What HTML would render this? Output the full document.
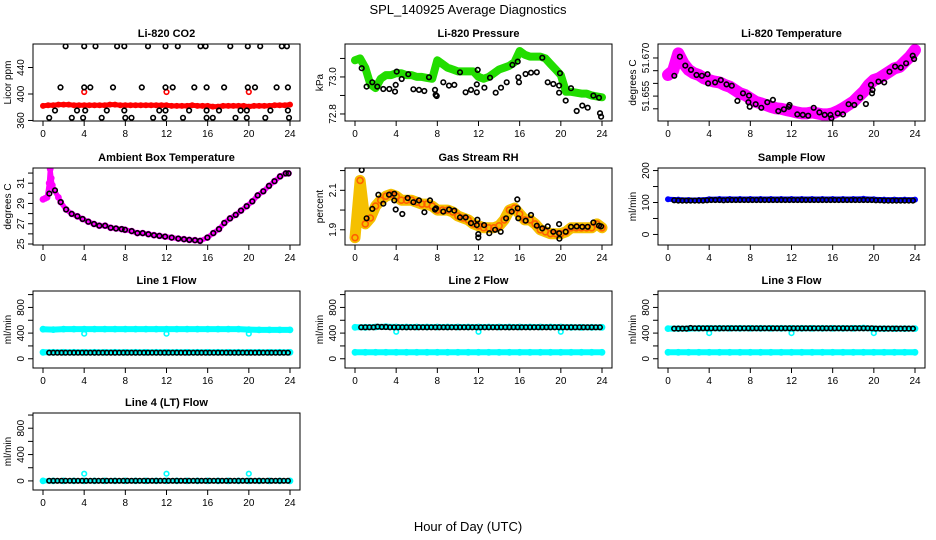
<!DOCTYPE html>
<html><head><meta charset="utf-8">
<style>
html,body{margin:0;padding:0;background:#fff;}
svg{display:block;font-family:"Liberation Sans",sans-serif;}
</style></head>
<body>
<svg id="chart" width="936" height="540" viewBox="0 0 936 540" xmlns="http://www.w3.org/2000/svg">
<rect x="0" y="0" width="936" height="540" fill="#fff"/>
<text x="468" y="14" text-anchor="middle" font-size="13">SPL_140925  Average Diagnostics</text>
<text x="468" y="531" text-anchor="middle" font-size="13">Hour of Day (UTC)</text>
</svg>
<script>
// ---- shared x data ----
const xTickLabels = [0,4,8,12,16,20,24];
const bandX = [0,1,2,3,4,5,6,7,8,9,10,11,12,13,14,15,16,17,18,19,20,21,22,23,24];
const flowX = [0.6,1.0,1.4,1.8,2.2,2.6,3.0,3.4,3.8,4.2,4.6,5.0,5.4,5.8,6.2,6.6,7.0,7.4,7.8,8.2,8.6,9.0,9.4,9.8,10.2,10.6,11.0,11.4,11.8,12.2,12.6,13.0,13.4,13.8,14.2,14.6,15.0,15.4,15.8,16.2,16.6,17.0,17.4,17.8,18.2,18.6,19.0,19.4,19.8,20.2,20.6,21.0,21.4,21.8,22.2,22.6,23.0,23.4,23.8];
const halfX = [0,0.5,1,1.5,2,2.5,3,3.5,4,4.5,5,5.5,6,6.5,7,7.5,8,8.5,9,9.5,10,10.5,11,11.5,12,12.5,13,13.5,14,14.5,15,15.5,16,16.5,17,17.5,18,18.5,19,19.5,20,20.5,21,21.5,22,22.5,23,23.5,24];
const outlierX = [4,12,20];

// ---- CO2 ----
const co2Red = [382,383,383,384,384,384,383,383,383,383,383,383,383,384,384,383,383,383,383,383,383,383,383,383,383,382,382,382,382,383,382,382,382,381,381,382,382,382,382,382,381,382,382,382,382,383,383,383,384];
const co2RedOut = [403,403,403];
const co2BlackX = [2.2,4.0,5.1,7.2,7.9,10.2,11.9,13.1,15.3,15.8,18.2,19.9,21.1,23.2,23.7, 1.7,4.0,4.6,6.8,9.6,11.9,12.6,14.7,15.9,17.6,19.9,20.6,22.7,23.8, 1.17,3.3,4.1,6.2,7.9,11.3,11.9,14.2,15.9,17.1,19.2,19.8,22.1,23.8, 0.6,2.8,3.9,5.7,8.0,8.6,10.7,11.8,13.6,15.9,16.5,18.7,19.8,21.6,23.9];
const co2BlackY = [472,472,472,472,472,472,472,472,472,472,472,472,472,472,472, 410,410,410,410,410,410,410,410,410,410,410,410,410,410, 375,375,375,375,375,375,375,375,375,375,375,375,375,375, 364,364,364,364,364,364,364,364,364,364,364,364,364,364,364];
const co2Ticks = [360,400,440];

// ---- Pressure ----
const presGreen = [73.09,73.10,73.05,72.96,72.94,72.99,73.01,73.01,73.02,73.02,73.01,73.01,73.00,73.00,72.995,72.99,73.09,73.07,73.05,73.04,73.03,73.03,73.03,73.03,73.00,72.99,73.00,73.02,73.04,73.05,73.06,73.08,73.14,73.12,73.11,73.11,73.11,73.10,73.07,73.04,73.01,72.92,72.92,72.915,72.91,72.91,72.90,72.895,72.89];
const presBlackX = [0.65,1.13,1.68,2.17,2.75,3.33,3.89,3.95,4.05,4.54,5.18,5.67,6.22,6.73,7.19,7.77,7.84,7.94,8.58,9.13,9.65,10.2,10.75,11.27,11.83,11.83,11.92,12.57,13.12,13.67,14.19,14.74,15.29,15.81,15.87,15.94,16.58,17.1,17.66,18.2,18.72,19.27,19.83,19.83,19.92,20.47,20.99,21.54,22.09,22.61,23.16,23.71,23.81,23.91];
const presBlackY = [73.047,72.948,72.971,72.948,72.935,72.935,72.921,72.957,73.029,72.989,73.015,72.933,72.930,72.924,72.998,72.930,72.903,72.897,72.971,72.953,72.957,73.025,72.917,72.930,72.917,72.960,73.038,72.942,72.996,72.915,72.942,72.971,73.065,73.083,72.998,72.971,73.016,73.023,73.025,73.104,72.971,72.962,72.953,72.915,73.020,72.872,72.939,72.816,72.845,72.834,72.899,72.888,72.804,72.785];
const presTicks = [72.8,72.9,73.0,73.1];
const presTickLabels = ["72.8","","73.0",""];

// ---- Li-820 Temperature ----
const tempMag = [51.6633,51.665,51.6718,51.6679,51.6653,51.664,51.6633,51.662,51.6613,51.6607,51.6604,51.6594,51.6587,51.6574,51.6561,51.6554,51.6541,51.6528,51.6522,51.6515,51.6508,51.6502,51.65,51.6495,51.6491,51.6486,51.6482,51.6482,51.6486,51.6482,51.6478,51.6478,51.6482,51.6491,51.6502,51.6515,51.6528,51.6548,51.6567,51.6594,51.6613,51.662,51.6633,51.6646,51.6659,51.6665,51.6685,51.6705,51.6731];
const tempBlackX = [0.61,1.16,1.68,2.23,2.77,3.29,3.84,3.9,4.58,5.13,5.68,6.2,6.74,7.29,7.81,7.87,7.94,8.52,9.07,9.65,10.19,10.72,11.26,11.74,11.81,12.56,13.1,13.62,14.16,14.71,15.23,15.78,15.88,16.49,17.0,17.55,18.1,18.68,19.23,19.72,19.82,19.87,20.45,21.01,21.52,22.07,22.62,23.14,23.78,23.91];
const tempBlackY = [51.663,51.6705,51.667,51.6653,51.6633,51.663,51.6636,51.66,51.6604,51.6613,51.6596,51.6591,51.6531,51.6561,51.6526,51.6552,51.6508,51.6518,51.6504,51.6526,51.6535,51.6491,51.6498,51.6508,51.6515,51.6478,51.6476,51.6473,51.6504,51.6486,51.6476,51.6476,51.6463,51.6482,51.6478,51.6518,51.6515,51.6544,51.6519,51.6594,51.6561,51.6574,51.6607,51.6604,51.6646,51.6666,51.6662,51.6679,51.6709,51.6696];
const tempTicks = [51.650,51.655,51.660,51.665,51.670];
const tempTickLabels = ["","51.655","","","51.670"];

// ---- Ambient Box Temperature ----
const ambMagX = [0,0.2,0.4,0.6,0.7,0.8,0.9,1.1,1.5,1.72,2.24,2.79,3.34,3.85,4.4,4.96,5.47,6.03,6.58,7.09,7.65,7.97,8.62,9.17,9.69,10.24,10.79,11.31,11.86,12.51,13.15,13.7,14.22,14.77,15.26,15.97,16.55,17.1,17.62,18.17,18.72,19.24,19.79,20.34,20.86,21.41,21.96,22.49,23.04,23.59,23.85];
const ambMagY = [29.4,29.5,29.6,31.0,32.4,31.5,30.8,30.3,29.6,29.13,28.4,27.97,27.73,27.47,27.2,26.97,26.8,26.8,26.6,26.53,26.47,26.4,26.27,26.07,26.07,25.97,25.87,25.8,25.73,25.63,25.53,25.47,25.4,25.37,25.3,25.63,26.07,26.47,27.07,27.53,27.87,28.3,28.73,29.2,29.8,30.2,30.73,31.2,31.67,31.97,31.97];
const ambBlackX = [0.61,1.17,1.72,2.24,2.79,3.34,3.85,4.4,4.96,5.47,6.03,6.58,7.09,7.65,7.97,8.62,9.17,9.69,10.24,10.79,11.31,11.86,12.51,13.15,13.7,14.22,14.77,15.26,15.97,16.55,17.1,17.62,18.17,18.72,19.24,19.79,20.34,20.86,21.41,21.96,22.49,23.04,23.59,23.85];
const ambBlackY = [29.97,30.3,29.13,28.4,27.97,27.73,27.47,27.2,26.97,26.8,26.8,26.6,26.53,26.47,26.4,26.27,26.07,26.07,25.97,25.87,25.8,25.73,25.63,25.53,25.47,25.4,25.37,25.3,25.63,26.07,26.47,27.07,27.53,27.87,28.3,28.73,29.2,29.8,30.2,30.73,31.2,31.67,31.97,31.97];
const ambTicks = [25,26,27,28,29,30,31,32];
const ambTickLabels = ["25","","27","","29","","31",""];

// ---- Gas Stream RH ----
const rhCloud = [1.86,2.15,1.93,1.96,2.02,2.05,2.07,2.08,2.07,2.05,2.05,2.05,2.04,2.03,2.03,2.02,2.0,2.0,2.0,1.99,1.97,1.96,1.95,1.93,1.92,1.91,1.91,1.91,1.92,1.95,2.0,2.01,1.98,1.95,1.95,1.93,1.9,1.89,1.88,1.88,1.88,1.89,1.91,1.91,1.91,1.91,1.91,1.93,1.91];
const rhBlackX = [0.65,1.13,1.68,2.27,2.75,3.3,3.82,3.82,3.95,4.6,5.12,5.67,6.22,6.74,7.29,7.77,7.87,8.58,9.14,9.65,10.2,10.76,11.27,11.83,11.89,11.98,11.98,12.54,13.05,13.61,14.16,14.68,15.23,15.77,15.81,15.87,16.59,17.1,17.66,18.2,18.72,19.27,19.83,19.83,19.86,20.47,20.99,21.54,22.09,22.61,23.16,23.71,23.91];
const rhBlackY = [2.203,1.958,2.006,2.078,2.032,2.078,2.083,2.049,2.003,1.98,2.061,2.04,2.049,1.989,2.049,2.003,2.009,1.992,2.003,1.997,1.963,1.963,1.934,1.924,1.951,1.878,1.861,1.924,1.883,1.9,1.89,1.958,1.992,2.054,2.009,1.958,1.946,1.975,1.921,1.907,1.917,1.89,1.929,1.883,1.855,1.89,1.915,1.917,1.915,1.915,1.937,1.921,1.917];
const rhTicks = [1.9,2.0,2.1,2.2];
const rhTickLabels = ["1.9","","2.1",""];

// ---- Sample Flow ----
const sampleBlue = [110,109,108,108,110,111,111,111,111,111,111,111,111,111,111,111,111,111,111,112,110,109,109,109,109];
const sampleBlack = [107,106,106,106,106,106,106,106,107,108,108,108,107,108,108,108,108,108,108,108,108,108,108,108,108,108,108,108,108,108,108,108,108,108,108,108,108,108,108,108,108,108,108,108,108,108,108,108,108,107,107,106,106,106,106,106,106,106,106];
const sampleTicks = [0,50,100,150,200];
const sampleTickLabels = ["0","","100","","200"];

// ---- Line flows ----
const flowTicks = [0,200,400,600,800,1000];
const flowTickLabels = ["0","","400","","800",""];
const line1CyanHi = [460,455,462,462,462,462,462,462,462,462,462,462,462,462,462,462,462,462,462,462,455,450,450,450,450];
const line1CyanLo = [100,100,100,100,100,100,100,100,100,100,100,100,100,100,100,100,100,100,100,100,100,100,100,100,100];
const line1Dips = [390,390,390];
const line1Black = [95,95,95,95,95,95,95,95,95,95,95,95,95,95,95,95,95,95,95,95,95,95,95,95,95,95,95,95,95,95,95,95,95,95,95,95,95,95,95,95,95,95,95,95,95,95,95,95,95,95,95,95,95,95,95,95,95,95,95];
const line2CyanHi = [490,490,495,500,495,495,495,495,495,495,495,495,495,495,495,495,495,495,495,495,495,490,490,490,490];
const line2CyanLo = [100,100,100,100,100,100,100,100,100,100,100,100,100,100,100,100,100,100,100,100,100,100,100,100,100];
const line2Dips = [420,420,420];
const line2Black = [490,490,490,490,500,495,495,490,490,490,490,490,490,490,490,490,490,490,490,490,490,490,490,490,490,490,490,490,490,490,490,490,490,490,490,490,490,490,490,490,490,490,490,490,490,490,490,490,490,490,490,490,490,490,490,490,490,490,490];
const line3CyanHi = [470,470,470,475,475,475,475,475,475,475,475,475,475,475,475,475,475,475,475,480,470,470,470,470,470];
const line3CyanLo = [100,100,100,100,100,100,100,100,100,100,100,100,100,100,100,100,100,100,100,100,100,100,100,100,100];
const line3Dips = [400,400,400];
const line3Black = [470,470,470,470,480,475,475,475,475,475,475,475,475,475,475,475,475,475,475,475,475,475,475,475,475,475,475,475,475,475,475,475,475,475,475,475,475,475,475,475,475,475,475,475,475,475,475,475,475,470,470,470,470,470,470,470,470,470,470];
const line4Cyan = [0,0,0,0,0,0,0,0,0,0,0,0,0,0,0,0,0,0,0,0,0,0,0,0,0];
const line4Spikes = [110,110,110];
const line4Black = [2,2,2,2,2,2,2,2,2,2,2,2,2,2,2,2,2,2,2,2,2,2,2,2,2,2,2,2,2,2,2,2,2,2,2,2,2,2,2,2,2,2,2,2,2,2,2,2,2,2,2,2,2,2,2,2,2,2,2];

const NS = "http://www.w3.org/2000/svg";
const svg = document.getElementById("chart");
function mk(tag, parent, attrs){ const e=document.createElementNS(NS,tag); for(const k in attrs) e.setAttribute(k,attrs[k]); parent.appendChild(e); return e; }

const colLeft = [33,345,658];
const rowTop = [44,168,291,413];
const W = 267, H = 77;

function panel(name, col, row, title, ylab, dom, ticks, tickLabels, series){
  const L = colLeft[col], T = rowTop[row];
  const g = mk("g", svg, {});
  
  
  const xs = h => L + 10 + h * (247/24);
  const ys = v => T + H - (v - dom[0]) / (dom[1] - dom[0]) * H;
  const clip = mk("clipPath", g, {id: "clip-"+name});
  mk("rect", clip, {x:L, y:T, width:W, height:H});
  const plot = mk("g", g, {"clip-path":"url(#clip-"+name+")"});
  
  
  series.forEach(s => {
    if (s.type === "band") {
      const pts = s.x.map((h,i)=> xs(h).toFixed(1)+","+ys(s.y[i]).toFixed(1)).join(" ");
      const pl = mk("polyline", plot, {points:pts, fill:"none", stroke:s.color, "stroke-width":s.w, "stroke-linejoin":"round", "stroke-linecap":"round"});
      
      
    }
    if (s.type === "band" || s.type === "pts") {
      s.x.forEach((h,i)=>{
        const c = mk("circle", plot, {cx:xs(h).toFixed(1), cy:ys(s.y[i]).toFixed(1), r:s.r||2.3, fill:"none", stroke:s.pc||s.color, "stroke-width":s.sw||1.6});
        
        
      });
    }
  });
  const box = mk("rect", g, {x:L, y:T, width:W, height:H, fill:"none", stroke:"#000", "stroke-width":1});
  
  
  const tt = mk("text", g, {x:L+W/2, y:T-7, "text-anchor":"middle", "font-size":"11", "font-weight":"bold"});
  tt.textContent = title;
  
  
  xTickLabels.forEach(h=>{
    mk("line", g, {x1:xs(h), x2:xs(h), y1:T+H, y2:T+H+5, stroke:"#000"});
    const t = mk("text", g, {x:xs(h), y:T+H+16, "text-anchor":"middle", "font-size":"10"});
    t.textContent = h;
    
    
  });
  ticks.forEach((v,i)=>{
    const y = ys(v);
    if (y < T-1 || y > T+H+1) return;
    mk("line", g, {x1:L-5, x2:L, y1:y, y2:y, stroke:"#000"});
    if (tickLabels[i] !== "") {
      const t = mk("text", g, {x:L-9, y:y, "text-anchor":"middle", "font-size":"10", transform:"rotate(-90 "+(L-9)+" "+y+")"});
      t.textContent = tickLabels[i];
      
      
    }
  });
  const yl = mk("text", g, {x:L-22, y:T+H/2, "text-anchor":"middle", "font-size":"10", transform:"rotate(-90 "+(L-22)+" "+(T+H/2)+")"});
  yl.textContent = ylab;
  
  
}

panel("co2-panel",0,0,"Li-820 CO2","Licor ppm",[359.2,475.5],co2Ticks,co2Ticks.map(String),[
  {type:"band",name:"co2-red-series",x:halfX,y:co2Red,color:"#ff0000",w:5,r:2.2},
  {type:"pts",name:"co2-red-outliers",x:outlierX,y:co2RedOut,color:"#ff0000"},
  {type:"pts",name:"co2-black-series",x:co2BlackX,y:co2BlackY,color:"#000"}]);
panel("pressure-panel",1,0,"Li-820 Pressure","kPa",[72.762,73.178],presTicks,presTickLabels,[
  {type:"band",name:"pressure-green-series",x:halfX,y:presGreen,color:"#22dd00",w:8,r:2.8},
  {type:"pts",name:"pressure-black-series",x:presBlackX,y:presBlackY,color:"#000"}]);
panel("li820-temp-panel",2,0,"Li-820 Temperature","degrees C",[51.6452,51.6755],tempTicks,tempTickLabels,[
  {type:"band",name:"temp-magenta-series",x:halfX,y:tempMag,color:"#ff00ff",w:12,r:4},
  {type:"pts",name:"temp-black-series",x:tempBlackX,y:tempBlackY,color:"#000"}]);
panel("ambient-panel",0,1,"Ambient Box Temperature","degrees C",[24.9,32.5],ambTicks,ambTickLabels,[
  {type:"band",name:"ambient-magenta-series",x:ambMagX,y:ambMagY,color:"#ff00ff",w:5,r:2.6},
  {type:"pts",name:"ambient-black-series",x:ambBlackX,y:ambBlackY,color:"#000"}]);
panel("rh-panel",1,1,"Gas Stream RH","percent",[1.823,2.213],rhTicks,rhTickLabels,[
  {type:"band",name:"rh-cloud-series",x:halfX,y:rhCloud,color:"#f5c000",w:11,r:3,pc:"#ff6000"},
  {type:"pts",name:"rh-black-series",x:rhBlackX,y:rhBlackY,color:"#000"}]);
panel("sample-flow-panel",2,1,"Sample Flow","ml/min",[-33,208],sampleTicks,sampleTickLabels,[
  {type:"band",name:"sample-blue-series",x:bandX,y:sampleBlue,color:"#0000ff",w:5,r:2.2},
  {type:"pts",name:"sample-black-series",x:flowX,y:sampleBlack,color:"#000"}]);
panel("line1-panel",0,2,"Line 1 Flow","ml/min",[-144,1056],flowTicks,flowTickLabels,[
  {type:"band",name:"line1-cyan-high",x:bandX,y:line1CyanHi,color:"#00ffff",w:6,r:2.6},
  {type:"band",name:"line1-cyan-low",x:bandX,y:line1CyanLo,color:"#00ffff",w:6,r:2.6},
  {type:"pts",name:"line1-cyan-dips",x:outlierX,y:line1Dips,color:"#00ffff"},
  {type:"pts",name:"line1-black-series",x:flowX,y:line1Black,color:"#000"}]);
panel("line2-panel",1,2,"Line 2 Flow","ml/min",[-144,1056],flowTicks,flowTickLabels,[
  {type:"band",name:"line2-cyan-high",x:bandX,y:line2CyanHi,color:"#00ffff",w:6,r:2.6},
  {type:"band",name:"line2-cyan-low",x:bandX,y:line2CyanLo,color:"#00ffff",w:6,r:2.6},
  {type:"pts",name:"line2-cyan-dips",x:outlierX,y:line2Dips,color:"#00ffff"},
  {type:"pts",name:"line2-black-series",x:flowX,y:line2Black,color:"#000"}]);
panel("line3-panel",2,2,"Line 3 Flow","ml/min",[-144,1056],flowTicks,flowTickLabels,[
  {type:"band",name:"line3-cyan-high",x:bandX,y:line3CyanHi,color:"#00ffff",w:6,r:2.6},
  {type:"band",name:"line3-cyan-low",x:bandX,y:line3CyanLo,color:"#00ffff",w:6,r:2.6},
  {type:"pts",name:"line3-cyan-dips",x:outlierX,y:line3Dips,color:"#00ffff"},
  {type:"pts",name:"line3-black-series",x:flowX,y:line3Black,color:"#000"}]);
panel("line4-panel",0,3,"Line 4 (LT) Flow","ml/min",[-138,1031],flowTicks,flowTickLabels,[
  {type:"band",name:"line4-cyan-series",x:bandX,y:line4Cyan,color:"#00ffff",w:5,r:2.6},
  {type:"pts",name:"line4-cyan-spikes",x:outlierX,y:line4Spikes,color:"#00ffff"},
  {type:"pts",name:"line4-black-series",x:flowX,y:line4Black,color:"#000"}]);
</script>
</body></html>
